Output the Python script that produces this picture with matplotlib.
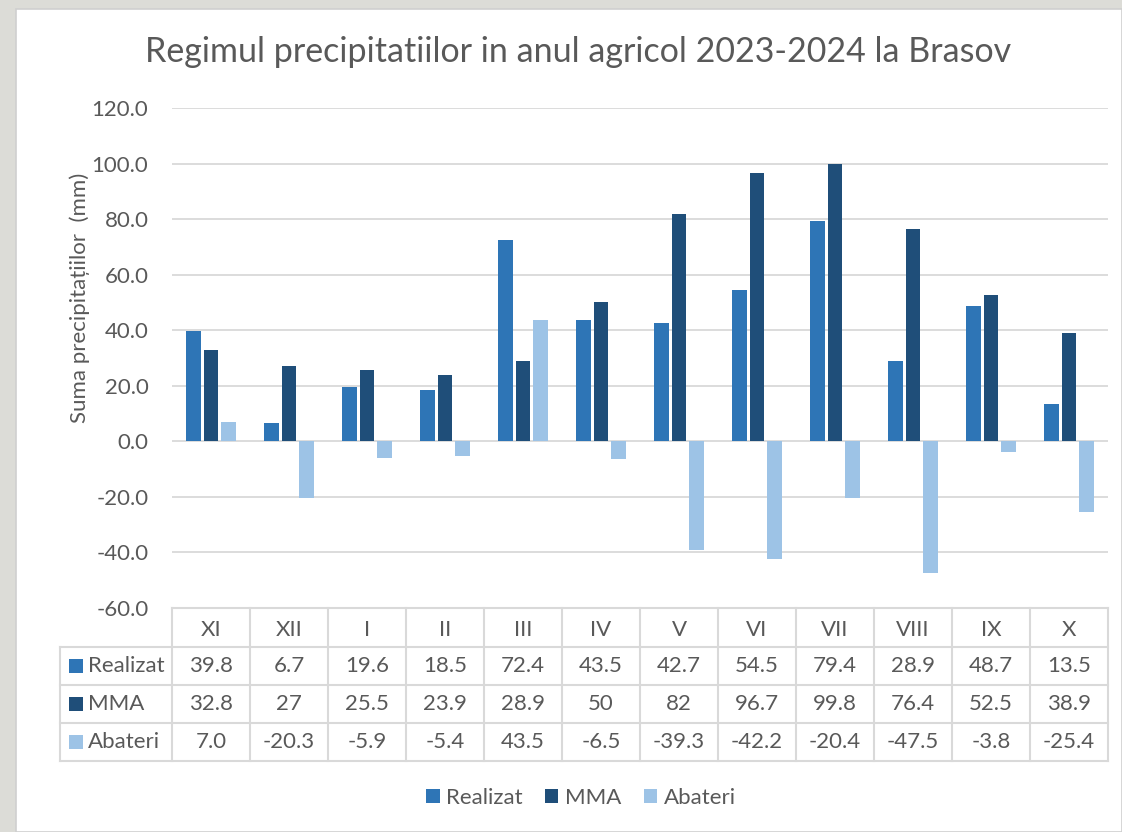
import matplotlib
matplotlib.use("Agg")
import matplotlib.pyplot as plt
from matplotlib.patches import Rectangle, Patch
from matplotlib.lines import Line2D

plt.rcParams['font.family'] = ['Lato', 'DejaVu Sans']

# date
luni = ['XI', 'XII', 'I', 'II', 'III', 'IV', 'V', 'VI', 'VII', 'VIII', 'IX', 'X']
realizat = [39.8, 6.7, 19.6, 18.5, 72.4, 43.5, 42.7, 54.5, 79.4, 28.9, 48.7, 13.5]
mma = [32.8, 27, 25.5, 23.9, 28.9, 50, 82, 96.7, 99.8, 76.4, 52.5, 38.9]
abateri = [7.0, -20.3, -5.9, -5.4, 43.5, -6.5, -39.3, -42.2, -20.4, -47.5, -3.8, -25.4]
mma_txt = ['32.8', '27', '25.5', '23.9', '28.9', '50', '82', '96.7', '99.8', '76.4', '52.5', '38.9']
serii = ['Realizat', 'MMA', 'Abateri']
culori = ['#2E75B6', '#1F4E79', '#9DC3E6']
yticks = [-60, -40, -20, 0, 20, 40, 60, 80, 100, 120]

W, H = 1122, 832
gri = '#595959'
linie = '#d9d9d9'
fs = 16

fig = plt.figure(figsize=(W / 100, H / 100), dpi=100)
fig.patch.set_facecolor('#dcdcd7')


def fx(x):
    return x / W


def fy(y):
    return 1 - y / H


# panoul alb
fig.patches.append(Rectangle((fx(16), 0), 1 - fx(16), fy(9), transform=fig.transFigure,
                             facecolor='white', edgecolor='#cfcfcf', lw=1.2, zorder=-5))

ax = fig.add_axes([fx(172), fy(608), (1108 - 172) / W, 500 / H])
ax.set_zorder(2)
ax.set_facecolor('none')
x = list(range(len(luni)))
w = 0.19
d = 0.22
ax.bar([i - d for i in x], realizat, w, color=culori[0], zorder=3)
ax.bar(x, mma, w, color=culori[1], zorder=3)
ax.bar([i + d for i in x], abateri, w, color=culori[2], zorder=3)
ax.set_xlim(-0.5, len(luni) - 0.5)
ax.set_ylim(-60, 120)
ax.set_yticks(yticks)
ax.set_yticklabels([f'{v:.1f}' for v in yticks], fontsize=fs, color=gri)
ax.set_xticks([])
ax.grid(axis='y', color=linie, lw=1.3, zorder=0)
ax.tick_params(axis='y', length=0, pad=17)
for s in ax.spines.values():
    s.set_visible(False)

fig.text(fx(578), fy(52), 'Regimul precipitatiilor in anul agricol 2023-2024 la Brasov',
         ha='center', va='center', fontsize=24.5, color=gri)
fig.text(fx(80), fy(298), 'Suma precipitațiilor  (mm)', rotation=90,
         ha='center', va='center', fontsize=fs, color=gri)

# tabelul de date
x0, x1 = 172, 1108
cw = (x1 - x0) / len(luni)
rows = [608, 647, 685, 723, 761]


def hline(y, xa, xb):
    fig.lines.append(Line2D([fx(xa), fx(xb)], [fy(y), fy(y)], transform=fig.transFigure,
                            color=linie, lw=1.5))


def vline(x, ya, yb):
    fig.lines.append(Line2D([fx(x), fx(x)], [fy(ya), fy(yb)], transform=fig.transFigure,
                            color=linie, lw=1.5))


hline(rows[0], x0, x1)
for y in rows[1:]:
    hline(y, 60, x1)
vline(60, rows[1], rows[-1])
for i in range(len(luni) + 1):
    vline(x0 + i * cw, rows[0], rows[-1])

for i, l in enumerate(luni):
    fig.text(fx(x0 + (i + 0.5) * cw), fy((rows[0] + rows[1]) / 2 + 2), l,
             ha='center', va='center', fontsize=fs, color=gri)

valori = [[f'{v:.1f}' for v in realizat], mma_txt, [f'{v:.1f}' for v in abateri]]
for r, (nume, col, vals) in enumerate(zip(serii, culori, valori)):
    yc = (rows[r + 1] + rows[r + 2]) / 2
    fig.patches.append(Rectangle((fx(69), fy(yc + 7)), 14 / W, 14 / H, transform=fig.transFigure,
                                 facecolor=col, edgecolor='none'))
    fig.text(fx(88), fy(yc), nume, ha='left', va='center', fontsize=fs, color=gri)
    for i, v in enumerate(vals):
        fig.text(fx(x0 + (i + 0.5) * cw), fy(yc), v, ha='center', va='center',
                 fontsize=fs, color=gri)

handles = [Patch(facecolor=c, edgecolor='none') for c in culori]
fig.legend(handles, serii, loc='center', bbox_to_anchor=(fx(581), fy(798)), ncol=3,
           frameon=False, fontsize=fs, labelcolor=gri, handlelength=0.6, handleheight=0.6,
           handletextpad=0.3, columnspacing=1.0)

fig.savefig('out.png', dpi=100, facecolor=fig.get_facecolor())
